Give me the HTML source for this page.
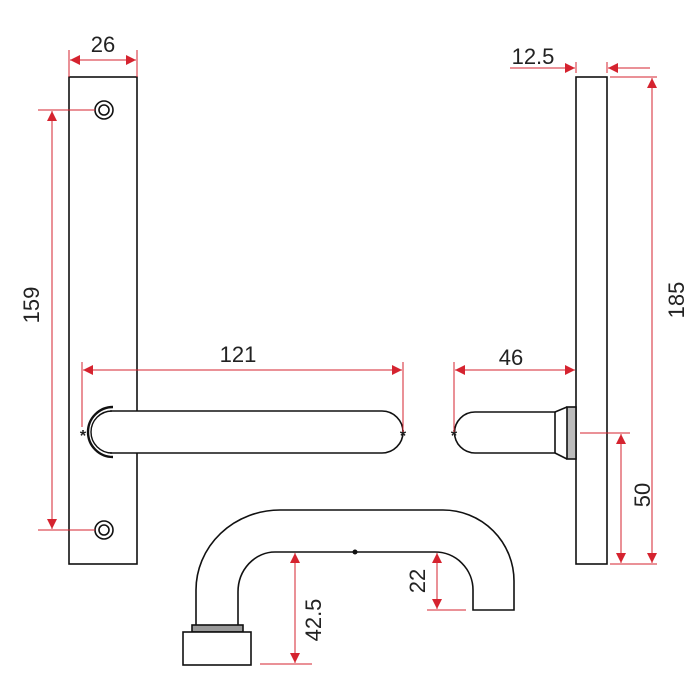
<!DOCTYPE html>
<html><head><style>html,body{margin:0;padding:0;background:#fff}svg{display:block}text{font-family:"Liberation Sans",sans-serif;font-size:22px;fill:#222}</style></head><body>
<svg width="700" height="700" viewBox="0 0 700 700">
<defs>
<marker id="a" viewBox="0 0 10 10" refX="10" refY="5" markerWidth="16" markerHeight="10" markerUnits="userSpaceOnUse" orient="auto-start-reverse"><path d="M0,0L10,5L0,10z" fill="#d5232f"/></marker>
</defs>
<g stroke="#111" stroke-width="1.6" fill="none">
<rect x="69" y="77" width="68" height="487" fill="#fff"/>
<circle cx="104" cy="110" r="9"/><circle cx="104" cy="110" r="5"/>
<circle cx="104" cy="530" r="9"/><circle cx="104" cy="530" r="5"/>
<path d="M110,411 H382 A21,21 0 0 1 382,453 H110" fill="#fff"/>
<path d="M112,411 A21,21 0 0 0 112,453" stroke-width="1.4"/>
<path d="M113,407 A25,25 0 0 0 113,457" stroke-width="2.4"/>
<rect x="576" y="77" width="31" height="487"/>
<path d="M555,412 H475 A20.5,20.5 0 0 0 475,453 H555 Z"/>
<rect x="567" y="407" width="9" height="52" fill="#bbb"/>
<path d="M555,412 L567,407 M555,453 L567,459"/>
<path d="M196,625 V590 A84,80 0 0 1 280,510 H443 A71,71 0 0 1 514,581 V610 H473 V590 A38,38 0 0 0 435,552 H275 A37,40 0 0 0 238,592 V625"/>
<rect x="192" y="625" width="51" height="7" fill="#999"/>
<rect x="183" y="632" width="68" height="33" fill="#fff"/>
</g>
<circle cx="355" cy="552" r="2.5" fill="#111"/>
<text x="83" y="441" style="font-size:16px;font-weight:bold" text-anchor="middle">*</text>
<text x="403" y="441" style="font-size:16px;font-weight:bold" text-anchor="middle">*</text>
<text x="454" y="441" style="font-size:16px;font-weight:bold" text-anchor="middle">*</text>
<g stroke="#d5232f" stroke-width="1" fill="none">
<path d="M69,50V77M137,50V77"/>
<line x1="70" y1="60" x2="136" y2="60" marker-start="url(#a)" marker-end="url(#a)"/>
<path d="M38,110H95M38,530H95"/>
<line x1="52" y1="111" x2="52" y2="529" marker-start="url(#a)" marker-end="url(#a)"/>
<path d="M82,362V427M403,362V432"/>
<line x1="83" y1="370" x2="402" y2="370" marker-start="url(#a)" marker-end="url(#a)"/>
<path d="M454,362V432"/>
<line x1="455" y1="370" x2="575" y2="370" marker-start="url(#a)" marker-end="url(#a)"/>
<path d="M576,62V73M607,62V73"/>
<line x1="510" y1="68" x2="575" y2="68" marker-end="url(#a)"/>
<line x1="650" y1="68" x2="608" y2="68" marker-end="url(#a)"/>
<path d="M610,77H657M610,564H657"/>
<line x1="652" y1="78" x2="652" y2="563" marker-start="url(#a)" marker-end="url(#a)"/>
<path d="M580,433H630"/>
<line x1="621" y1="434" x2="621" y2="563" marker-start="url(#a)" marker-end="url(#a)"/>
<path d="M260,664H312"/>
<line x1="295" y1="553" x2="295" y2="663" marker-start="url(#a)" marker-end="url(#a)"/>
<path d="M427,610H466"/>
<line x1="437" y1="553" x2="437" y2="609" marker-start="url(#a)" marker-end="url(#a)"/>
</g>
<text x="103" y="52" text-anchor="middle">26</text>
<text x="238" y="362" text-anchor="middle">121</text>
<text x="511" y="365" text-anchor="middle">46</text>
<text x="533" y="64" text-anchor="middle">12.5</text>
<text transform="translate(39,305) rotate(-90)" text-anchor="middle">159</text>
<text transform="translate(684,300) rotate(-90)" text-anchor="middle">185</text>
<text transform="translate(650,495) rotate(-90)" text-anchor="middle">50</text>
<text transform="translate(321,620) rotate(-90)" text-anchor="middle">42.5</text>
<text transform="translate(425,581) rotate(-90)" text-anchor="middle">22</text>
</svg>
</body></html>
